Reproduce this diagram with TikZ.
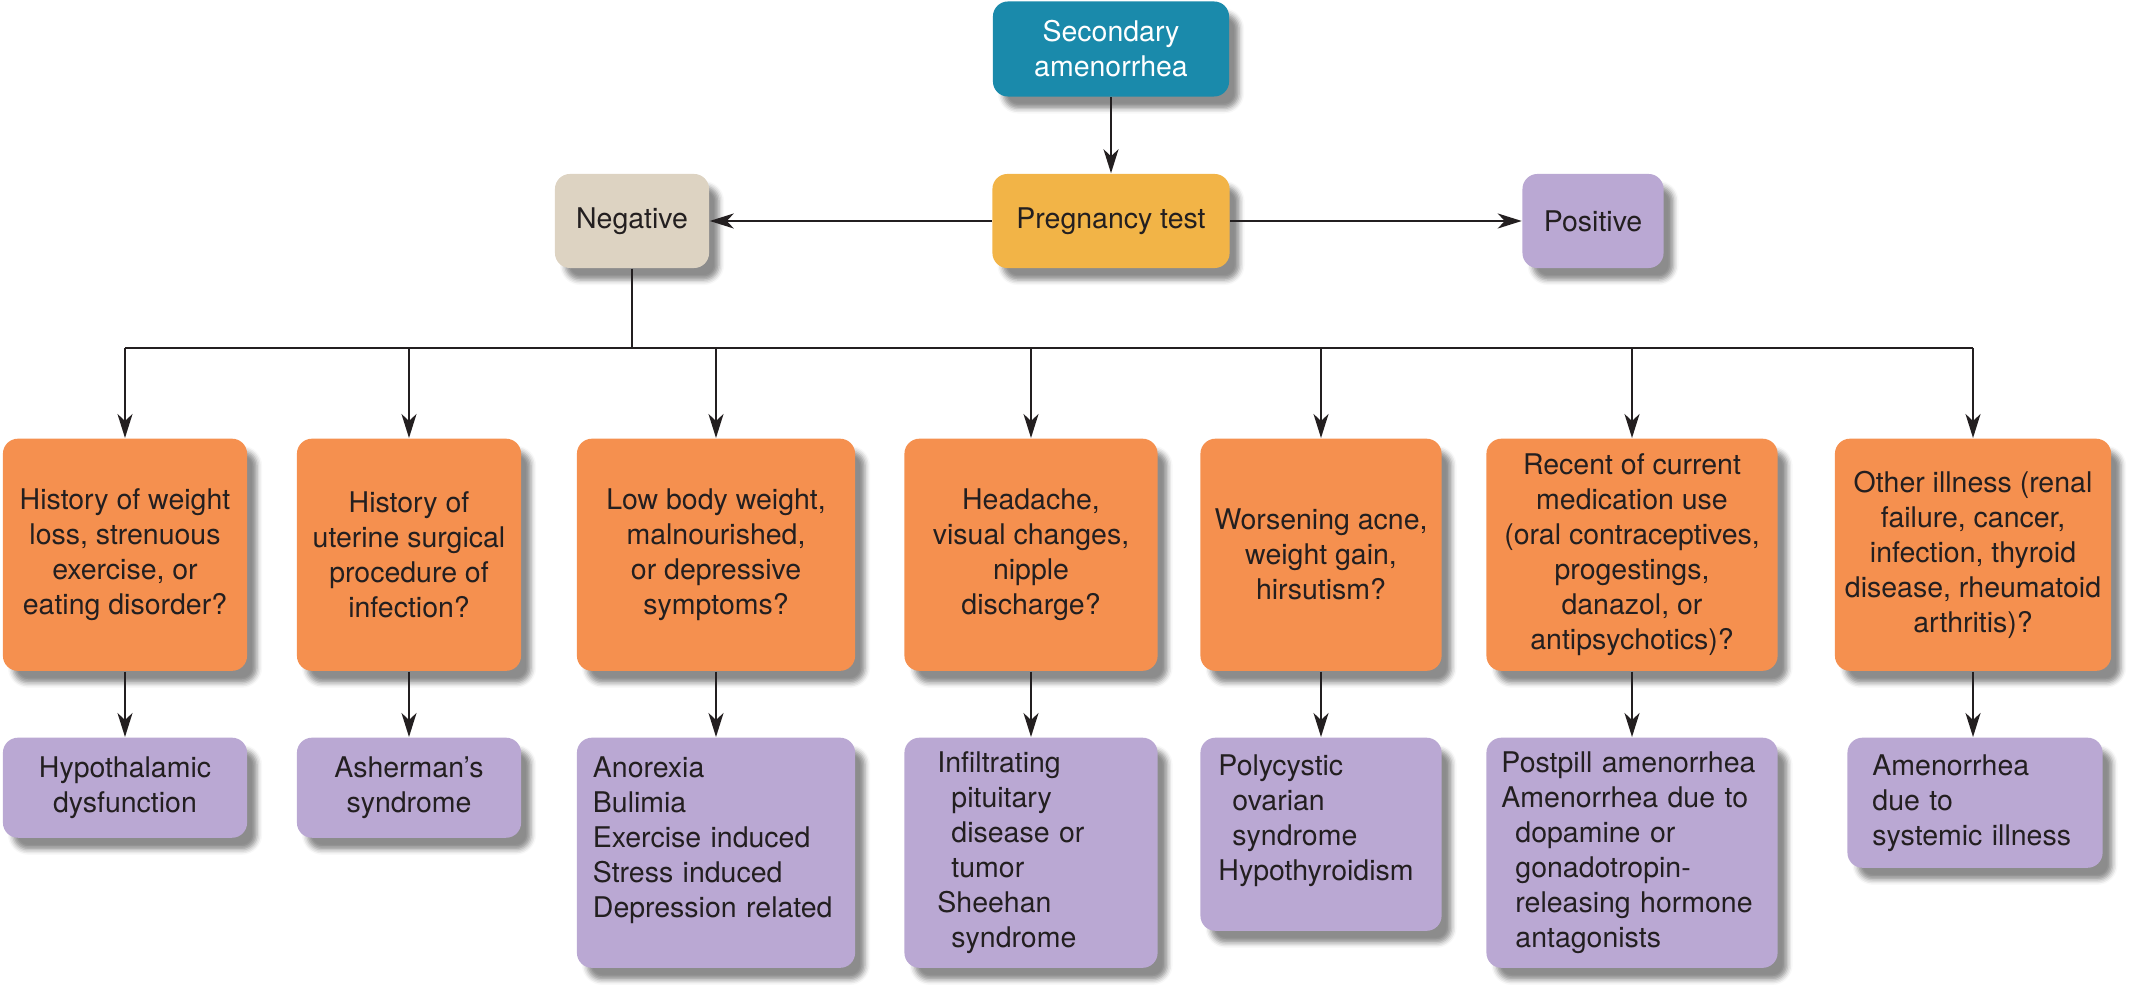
\documentclass[tikz,border=0pt]{standalone}
\usepackage{fontspec}
\setmainfont{TeX Gyre Heros}
\usepackage{tikz}
\usetikzlibrary{arrows.meta, positioning, shadows.blur}
\definecolor{secteal}{HTML}{1A8AAB}
\definecolor{testgold}{HTML}{F2B447}
\definecolor{negbeige}{HTML}{DDD3C2}
\definecolor{dxpurple}{HTML}{BAA8D3}
\definecolor{qorange}{HTML}{F5904F}
\definecolor{inkdark}{HTML}{231F20}
\newcommand{\hangin}{\hspace*{0.14cm}}

\begin{document}
\begin{tikzpicture}[x=0.01cm, y=-0.01cm, >={Stealth[length=0.24cm, width=0.15cm, inset=0.07cm]},
    font=\fontsize{8.1pt}{9.95pt}\selectfont, text=inkdark,
    box/.style={rounded corners=0.15cm, inner sep=0pt, align=center,
        blur shadow={shadow xshift=0.1cm, shadow yshift=-0.12cm, shadow blur radius=0.05cm, shadow opacity=45}},
    topbox/.style={box, minimum height=0.94cm},
    qbox/.style={box, fill=qorange, anchor=north, minimum height=2.32cm},
    dxbox/.style={box, fill=dxpurple, anchor=north},
    link/.style={->, line width=0.6pt, draw=inkdark},
    bus/.style={line width=0.6pt, draw=inkdark}]
    \useasboundingbox (0,0) rectangle (2131,986);

    % Top row
    \node[topbox, fill=secteal, text=white, minimum width=2.36cm, minimum height=0.95cm] (sec) at (1111,49) {Secondary\\amenorrhea};
    \node[topbox, fill=testgold, minimum width=2.37cm] (preg) at (1111,221) {Pregnancy test};
    \node[topbox, fill=negbeige, minimum width=1.54cm] (neg) at (632,221) {Negative};
    \node[topbox, fill=dxpurple, minimum width=1.41cm] (pos) at (1593,221) {Positive};

    % Questions
    \node[qbox, minimum width=2.44cm] (q1) at (125,438) {History of weight\\loss, strenuous\\exercise, or\\eating disorder?};
    \node[qbox, minimum width=2.24cm] (q2) at (409,438) {History of\\uterine surgical\\procedure of\\infection?};
    \node[qbox, minimum width=2.78cm] (q3) at (716,438) {Low body weight,\\malnourished,\\or depressive\\symptoms?};
    \node[qbox, minimum width=2.53cm] (q4) at (1031,438) {Headache,\\visual changes,\\nipple\\discharge?};
    \node[qbox, minimum width=2.41cm] (q5) at (1321,438) {Worsening acne,\\weight gain,\\hirsutism?};
    \node[qbox, minimum width=2.91cm] (q6) at (1632,438) {Recent of current\\medication use\\(oral contraceptives,\\progestings,\\danazol, or\\antipsychotics)?};
    \node[qbox, minimum width=2.76cm] (q7) at (1973,438) {Other illness (renal\\failure, cancer,\\infection, thyroid\\disease, rheumatoid\\arthritis)?};

    % Diagnoses
    \node[dxbox, minimum width=2.44cm, minimum height=1.00cm] (dx1) at (125,737) {Hypothalamic\\dysfunction};
    \node[dxbox, minimum width=2.24cm, minimum height=1.00cm] (dx2) at (409,737) {Asherman's\\syndrome};
    \node[dxbox, minimum width=2.78cm, minimum height=2.30cm, align=left, text width=2.46cm] (dx3) at (716,737)
        {Anorexia\\Bulimia\\Exercise induced\\Stress induced\\Depression related\par\vspace*{0.26cm}};
    \node[dxbox, minimum width=2.53cm, minimum height=2.30cm, align=left, text width=1.87cm] (dx4) at (1031,737)
        {Infiltrating\\\hangin pituitary\\\hangin disease or\\\hangin tumor\\Sheehan\\\hangin syndrome};
    \node[dxbox, minimum width=2.41cm, minimum height=1.93cm, align=left, text width=2.05cm] (dx5) at (1321,737)
        {Polycystic\\\hangin ovarian\\\hangin syndrome\\Hypothyroidism\par\vspace*{0.28cm}};
    \node[dxbox, minimum width=2.91cm, minimum height=2.30cm, align=left, text width=2.61cm] (dx6) at (1632,737)
        {Postpill amenorrhea\\Amenorrhea due to\\\hangin dopamine or\\\hangin gonadotropin-\\\hangin releasing hormone\\\hangin antagonists};
    \node[dxbox, minimum width=2.55cm, minimum height=1.30cm, align=left, text width=2.05cm] (dx7) at (1975,737)
        {Amenorrhea\\due to\\systemic illness};

    % Connectors
    \draw[link] (sec) -- (preg);
    \draw[link] (preg) -- (neg);
    \draw[link] (preg) -- (pos);
    \coordinate (split) at (632,348);
    \draw[bus] (neg) -- (split);
    \draw[bus] (q1.north |- split) -- (q7.north |- split);
    \foreach \i in {1,...,7} {
        \draw[link] (q\i.north |- split) -- (q\i.north);
        \draw[link] (q\i.south) -- (q\i.south |- dx\i.north);
    }
\end{tikzpicture}
\end{document}
